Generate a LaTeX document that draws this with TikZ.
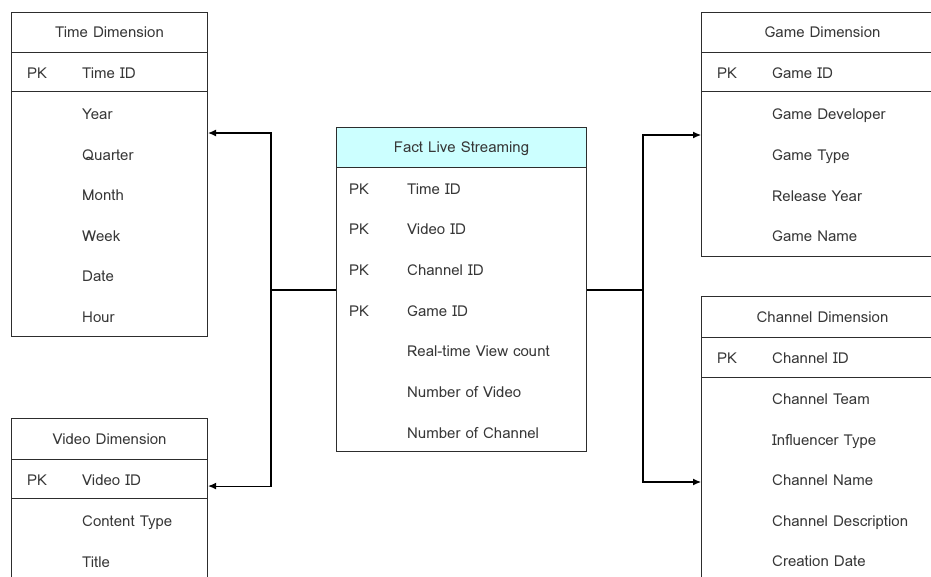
\documentclass[tikz,border=0pt]{standalone}
\usepackage{fontspec}
\newfontfamily\lomafont{Loma}
\usetikzlibrary{arrows.meta}
\definecolor{txt}{RGB}{55,55,55}
\definecolor{edge}{RGB}{45,45,45}
\definecolor{facthead}{RGB}{204,255,255}
\begin{document}
\begin{tikzpicture}[x=1pt,y=-1pt,
  font=\lomafont\fontsize{15}{17}\selectfont,
  part/.style={draw=edge, line width=1.1pt, anchor=north west, inner sep=0pt, text=txt},
  fld/.style={text=txt, inner sep=0pt, anchor=west, text height=12pt, text depth=2pt},
  conn/.style={draw=black, line width=1.1pt},
  arr/.style={conn, -{Latex[length=8pt,width=7pt]}}]
\useasboundingbox (0,0) rectangle (931,576);
\clip (0,0) rectangle (931,576);

% Time Dimension
\node[part, minimum width=196pt, minimum height=40pt] (timeh) at (11,12) {};
\node[fld, anchor=center] (timet) at (timeh.center) {Time Dimension};
\node[part, minimum width=196pt, minimum height=39pt] (timep) at (11,52) {};
\node[part, minimum width=196pt, minimum height=245pt] (timeb) at (11,91) {};
\node[fld] (t0) at (27,73) {PK};
\node[fld] (t1) at (82,73) {Time ID};
\node[fld] (t2) at (82,114) {Year};
\node[fld] (t3) at (82,155) {Quarter};
\node[fld] (t4) at (82,195) {Month};
\node[fld] (t5) at (82,236) {Week};
\node[fld] (t6) at (82,276) {Date};
\node[fld] (t7) at (82,317) {Hour};

% Video Dimension
\node[part, minimum width=196pt, minimum height=41pt] (vidh) at (11,418) {};
\node[fld, anchor=center] (vidt) at (vidh.center) {Video Dimension};
\node[part, minimum width=196pt, minimum height=39pt] (vidp) at (11,459) {};
\node[part, minimum width=196pt, minimum height=140pt] (vidb) at (11,498) {};
\node[fld] (v0) at (27,480) {PK};
\node[fld] (v1) at (82,480) {Video ID};
\node[fld] (v2) at (82,521) {Content Type};
\node[fld] (v3) at (82,562) {Title};

% Fact Live Streaming
\node[part, fill=facthead, minimum width=250pt, minimum height=40pt] (facth) at (336,127) {};
\node[fld, anchor=center] (factt) at (facth.center) {Fact Live Streaming};
\node[part, minimum width=250pt, minimum height=284pt] (factb) at (336,167) {};
\node[fld] (f0a) at (349,189) {PK};
\node[fld] (f0b) at (407,189) {Time ID};
\node[fld] (f1a) at (349,229) {PK};
\node[fld] (f1b) at (407,229) {Video ID};
\node[fld] (f2a) at (349,270) {PK};
\node[fld] (f2b) at (407,270) {Channel ID};
\node[fld] (f3a) at (349,311) {PK};
\node[fld] (f3b) at (407,311) {Game ID};
\node[fld] (f4) at (407,351) {Real-time View count};
\node[fld] (f5) at (407,392) {Number of Video};
\node[fld] (f6) at (407,433) {Number of Channel};

% Game Dimension
\node[part, minimum width=242pt, minimum height=40pt] (gameh) at (701,12) {};
\node[fld, anchor=center] (gamet) at (gameh.center) {Game Dimension};
\node[part, minimum width=242pt, minimum height=39pt] (gamep) at (701,52) {};
\node[part, minimum width=242pt, minimum height=165pt] (gameb) at (701,91) {};
\node[fld] (g0) at (717,73) {PK};
\node[fld] (g1) at (772,73) {Game ID};
\node[fld] (g2) at (772,114) {Game Developer};
\node[fld] (g3) at (772,155) {Game Type};
\node[fld] (g4) at (772,196) {Release Year};
\node[fld] (g5) at (772,236) {Game Name};

% Channel Dimension
\node[part, minimum width=242pt, minimum height=41pt] (chanh) at (701,296) {};
\node[fld, anchor=center] (chant) at (chanh.center) {Channel Dimension};
\node[part, minimum width=242pt, minimum height=40pt] (chanp) at (701,337) {};
\node[part, minimum width=242pt, minimum height=260pt] (chanb) at (701,377) {};
\node[fld] (c0) at (717,358) {PK};
\node[fld] (c1) at (772,358) {Channel ID};
\node[fld] (c2) at (772,399) {Channel Team};
\node[fld] (c3) at (772,440) {Influencer Type};
\node[fld] (c4) at (772,480) {Channel Name};
\node[fld] (c5) at (772,521) {Channel Description};
\node[fld] (c6) at (772,561) {Creation Date};

% connectors
\coordinate (jl) at (271,290);
\coordinate (jr) at (643,290);
\draw[conn] (factb.west |- jl) -- (jl);
\draw[arr] (jl) |- ([yshift=-42pt]timeb.north east);
\draw[arr] (jl) |- ([yshift=-7pt]vidp.east);
\draw[conn] (factb.east |- jr) -- (jr);
\draw[arr] (jr) |- ([yshift=-44pt]gameb.north west);
\draw[arr] (jr) |- ([yshift=-105pt]chanb.north west);
\end{tikzpicture}
\end{document}
